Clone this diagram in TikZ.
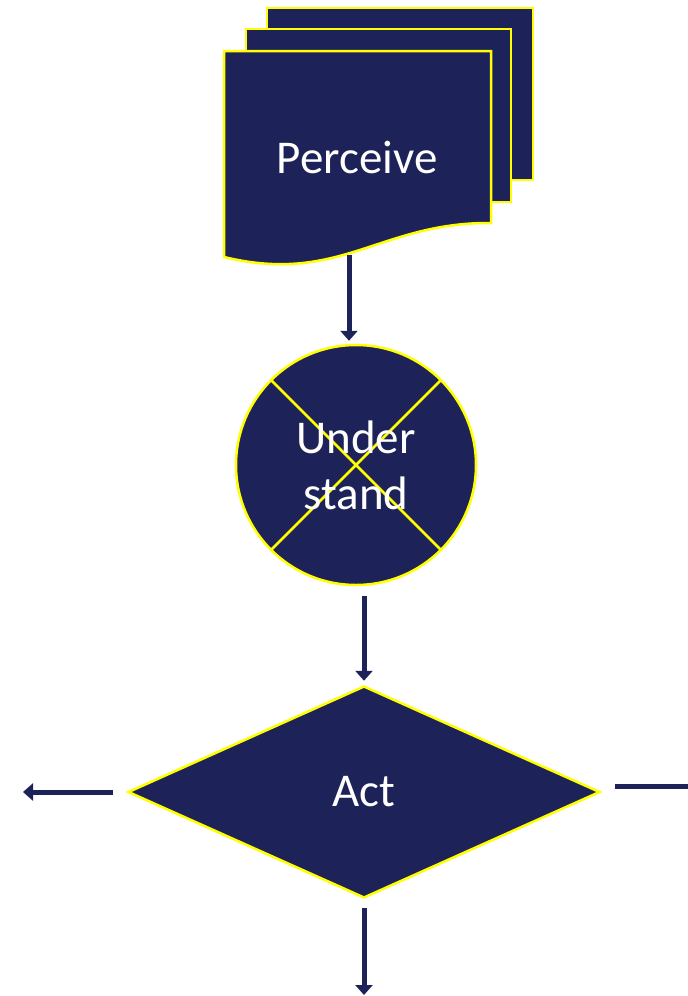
\documentclass[tikz,border=0pt]{standalone}
\usepackage{fontspec}
\setmainfont{Carlito}
\usepackage{xcolor}
\definecolor{darknavy}{RGB}{29,35,88}
\definecolor{brightyellow}{RGB}{255,255,0}
\usepackage{tikz}
\usetikzlibrary{arrows.meta}
\usetikzlibrary{shapes.geometric}
\newcommand{\rimwidth}{2.5pt}
\newcommand{\flowwidth}{5pt}
\newcommand{\labelfont}{\fontsize{47}{56}\selectfont}
\tikzset{
    sheet/.style={fill=darknavy, draw=brightyellow, line width=\rimwidth},
    label/.style={text=white, font=\labelfont, align=center},
    flow/.style={draw=darknavy, line width=\flowwidth, -{Triangle[width=17pt, length=10pt]}},
    flowline/.style={draw=darknavy, line width=\flowwidth},
    cross/.style={
        path picture={
            \draw[brightyellow, line width=\rimwidth]
                (path picture bounding box.south east)--(path picture bounding box.north west)
                (path picture bounding box.south west)--(path picture bounding box.north east);
        }
    }
}

\begin{document}
\begin{tikzpicture}[x=1pt, y=-1pt]
              \useasboundingbox (0,0) rectangle (688,996);

              % stacked documents
              \draw[sheet] (267,8) rectangle (533,180);
              \draw[sheet] (246,29) rectangle (511,202);
              \draw[sheet] (224,51) -- (491,51) -- (491,223)
                  .. controls (380,222) and (340,285) .. (224,257) -- cycle;
              \node[label] (perceive) at (357,157) {Perceive};
              \coordinate (perceive-foot) at (349,255);

              \node[sheet, circle, cross, minimum size=240pt, inner sep=0pt, label] (understand) at (356,465) {Under\\stand};

              \node[sheet, diamond, minimum width=472pt, minimum height=212pt, inner sep=0pt, label] (act) at (364,792) {Act};

              \coordinate (out-left) at (23,792);
              \coordinate (out-right) at (688,786);
              \coordinate (out-down) at (364,996);

              \draw[flow, shorten >=3pt] (perceive-foot) -- (perceive-foot |- understand.north);
              \draw[flow, shorten <=10pt, shorten >=4pt] (act.north |- understand.south) -- (act.north);
              \draw[flow, shorten <=14pt] (act.west) -- (out-left);
              \draw[flowline, shorten <=14pt] ([yshift=6pt]act.east) -- (out-right);
              \draw[flow, shorten <=9pt, shorten >=1pt] (act.south) -- (out-down);
          \end{tikzpicture}
\end{document}
